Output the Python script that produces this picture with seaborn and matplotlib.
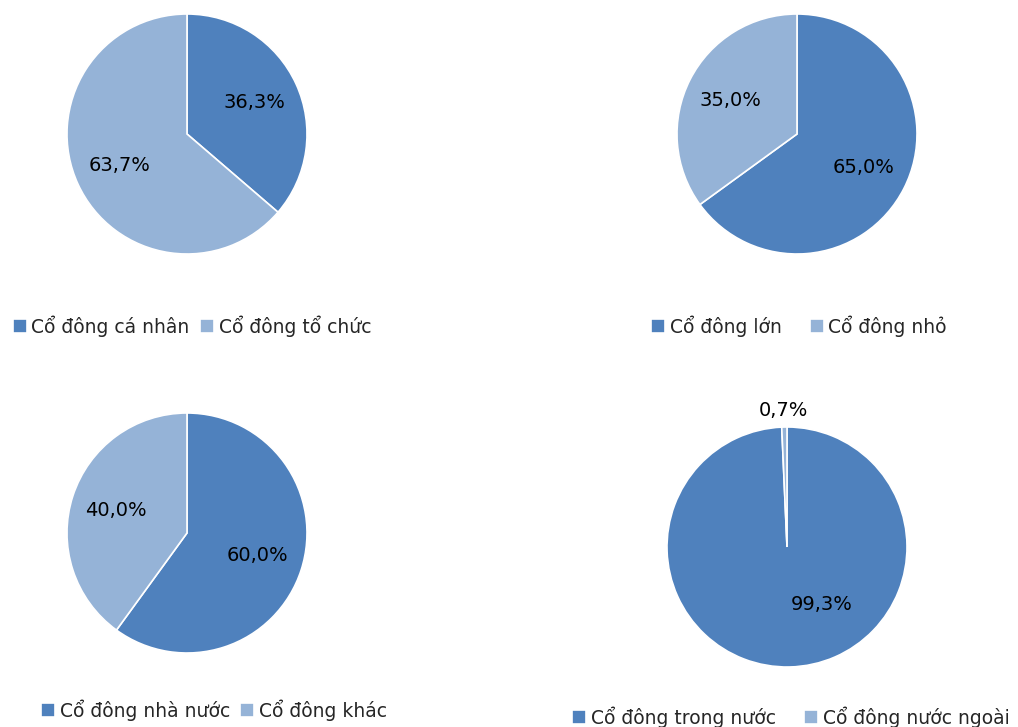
import matplotlib
matplotlib.use("Agg")
import matplotlib.pyplot as plt
import seaborn as sns

sns.set_theme(style="white")
plt.rcParams['font.family'] = ['DejaVu Sans']

colors = ["#4F81BD", "#95B3D7"]

labels1 = ["Cổ đông cá nhân", "Cổ đông tổ chức"]
values1 = [36.3, 63.7]
labels2 = ["Cổ đông lớn", "Cổ đông nhỏ"]
values2 = [65.0, 35.0]
labels3 = ["Cổ đông nhà nước", "Cổ đông khác"]
values3 = [60.0, 40.0]
labels4 = ["Cổ đông trong nước", "Cổ đông nước ngoài"]
values4 = [99.3, 0.7]

W, H = 1018, 727
fig = plt.figure(figsize=(W / 100, H / 100), dpi=100)

FS = 14

def pie_axes(cx, cy, r):
    return fig.add_axes([(cx - r) / W, (H - cy - r) / H, 2 * r / W, 2 * r / H])

def fmt(p):
    return f"{p:.1f}%".replace(".", ",")

def draw(cx, cy, r, values, labels, lx, ly, colsp):
    ax = pie_axes(cx, cy, r)
    wedges, texts = ax.pie(values, colors=colors, startangle=90, counterclock=False,
                           radius=1.0, labels=[fmt(v) for v in values], labeldistance=0.62,
                           wedgeprops=dict(edgecolor="white", linewidth=1.2),
                           textprops=dict(fontsize=FS, color="black", ha="center", va="center"))
    ax.set_xlim(-1, 1)
    ax.set_ylim(-1, 1)
    ax.set_aspect("auto")
    ax.axis("off")
    fig.legend(wedges, labels, loc="center", bbox_to_anchor=(lx / W, 1 - ly / H),
               ncol=2, frameon=False, fontsize=13.5, handlelength=0.75, handleheight=0.75,
               handletextpad=0.25, columnspacing=colsp, borderpad=0, borderaxespad=0)
    return ax, texts

draw(187, 134, 120, values1, labels1, 192, 326, 0.55)
draw(797, 134, 120, values2, labels2, 799, 326, 1.5)
draw(187, 533, 120, values3, labels3, 214, 710, 0.55)
ax4, t4 = draw(787, 547, 120, values4, labels4, 791, 717, 1.5)
# Excel-style label placement for the last pie
t4[0].set_position((0.29, -0.48))
t4[1].set_position((-0.03, 1.14))
t4[1].set_clip_on(False)

fig.savefig("out.png", dpi=100, facecolor="white")
